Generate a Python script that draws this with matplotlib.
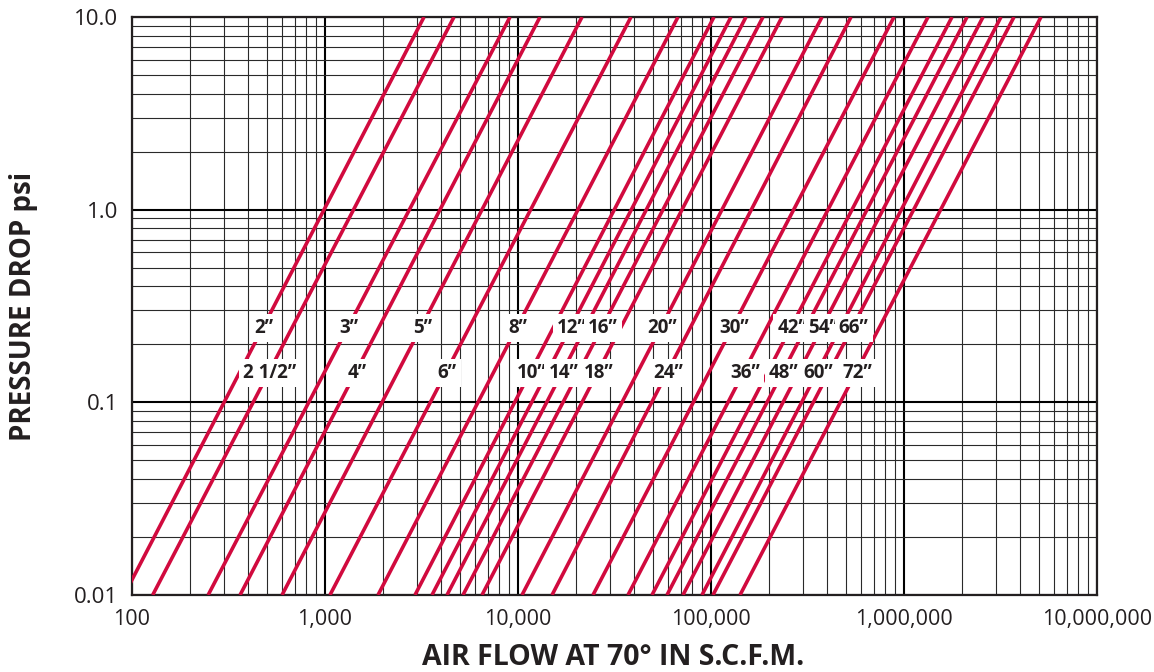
import matplotlib
matplotlib.use("Agg")
import matplotlib.pyplot as plt
import numpy as np

# pipe sizes, one line each
sizes = ["2”", "2 1/2”", "3”", "4”", "5”", "6”", "8”", "10”", "12”", "14”", "16”",
         "18”", "20”", "24”", "30”", "36”", "42”", "48”", "54”", "60”", "66”", "72”"]

# air flow (scfm) where each line is at 0.01 psi and at 10 psi
flow_low = [91, 128, 248, 363, 599, 1061, 1882, 2926, 3584, 4287, 5188,
            6509, 10490, 15010, 24470, 37150, 49470, 59160, 71590, 89820, 102400, 141400]
flow_high = [3258, 4659, 9088, 13000, 21460, 38500, 67450, 103600, 126950, 151800, 185900,
             233300, 375900, 531400, 887700, 1332000, 1773000, 2121000, 2567000, 3181000, 3715000, 5126000]
p_low = 0.01
p_high = 10.0

xticks = [100, 1000, 10000, 100000, 1000000, 10000000]
xtick_labels = ["100", "1,000", "10,000", "100,000", "1,000,000", "10,000,000"]
yticks = [0.01, 0.1, 1.0, 10.0]
ytick_labels = ["0.01", "0.1", "1.0", "10.0"]

# pressure rows where the size labels sit
label_rows = [0.243, 0.142]

red = "#D10A3E"
dark = "#231f20"
plt.rcParams["font.family"] = ["Open Sans", "DejaVu Sans"]

fig = plt.figure(figsize=(11.54, 6.72), dpi=100, facecolor="w")
ax = fig.add_axes([0.1144, 0.1146, 0.8362, 0.8601])

ax.set_xscale("log")
ax.set_yscale("log")
ax.set_xlim(100, 10000000)
ax.set_ylim(0.01, 10)

ax.set_axisbelow(True)
ax.grid(which="major", color="black", linewidth=1.5)
ax.grid(which="minor", color="#2a2a2a", linewidth=0.8)

for i in range(len(sizes)):
    ax.plot([flow_low[i], flow_high[i]], [p_low, p_high], color=red, linewidth=2.6,
            solid_capstyle="butt", zorder=3)

    # label sits on the line, alternating rows
    p = label_rows[i % 2]
    t = (np.log10(p) - np.log10(p_low)) / (np.log10(p_high) - np.log10(p_low))
    lx = 10 ** (np.log10(flow_low[i]) + t * (np.log10(flow_high[i]) - np.log10(flow_low[i])))
    ax.text(lx * 1.02, p, sizes[i], ha="center", va="center", fontsize=13.5, fontweight="bold",
            color=dark, zorder=5,
            bbox=dict(boxstyle="square,pad=0.22", facecolor="white", edgecolor="none"))

ax.set_xticks(xticks)
ax.set_xticklabels(xtick_labels)
ax.set_yticks(yticks)
ax.set_yticklabels(ytick_labels)
ax.tick_params(which="both", length=0)
ax.tick_params(axis="x", pad=10, labelsize=15.5, labelcolor=dark)
ax.tick_params(axis="y", pad=10, labelsize=16, labelcolor=dark)
ax.xaxis.set_minor_formatter(matplotlib.ticker.NullFormatter())
ax.yaxis.set_minor_formatter(matplotlib.ticker.NullFormatter())

for s in ax.spines.values():
    s.set_linewidth(1.6)
    s.set_color(dark)

fig.text(0.5316, 0.021, "AIR FLOW AT 70° IN S.C.F.M.", fontsize=20.5, fontweight="bold",
         color=dark, ha="center", va="center")
fig.text(0.02, 0.5446, "PRESSURE DROP psi", fontsize=20, fontweight="bold",
         color=dark, ha="center", va="center", rotation=90)

plt.savefig("out.png", dpi=100)
